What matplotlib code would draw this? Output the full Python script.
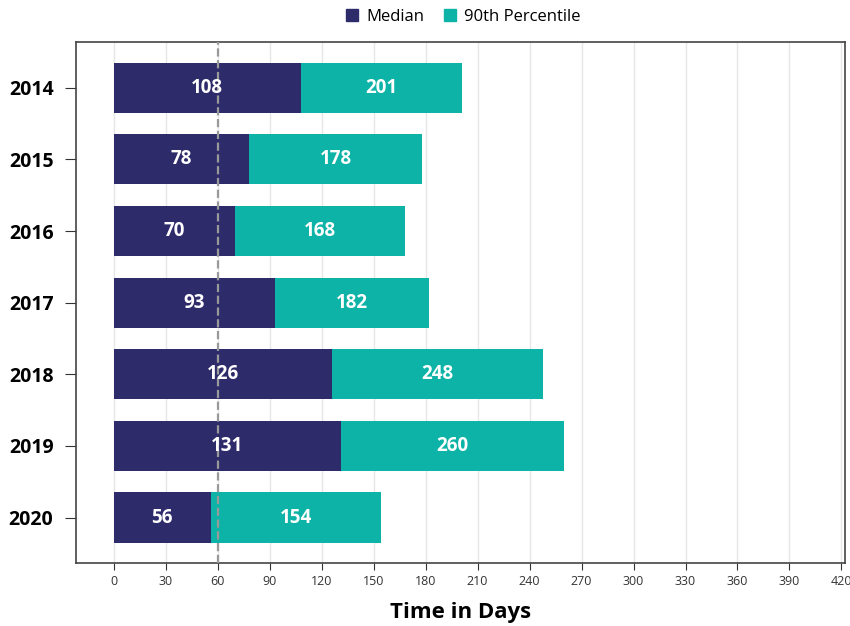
import numpy as np
import matplotlib.pyplot as plt
from matplotlib.patches import Patch

plt.rcParams['font.family'] = ['Open Sans', 'DejaVu Sans']

years = ['2014', '2015', '2016', '2017', '2018', '2019', '2020']
median = [108, 78, 70, 93, 126, 131, 56]
p90 = [201, 178, 168, 182, 248, 260, 154]

c_med = '#2e2b6b'
c_p90 = '#0db3a7'

fig = plt.figure(figsize=(8.5, 6.26), dpi=100)
ax = fig.add_axes([0.089, 0.1, 0.905, 0.833])

y = np.arange(len(years))
ax.barh(y, p90, height=0.7, color=c_p90, zorder=2)
ax.barh(y, median, height=0.7, color=c_med, zorder=3)

for i in range(len(years)):
    ax.text(median[i] / 2, y[i], str(median[i]), color='white', fontsize=13.5,
            fontweight='bold', ha='center', va='center', zorder=5)
    ax.text((median[i] + p90[i]) / 2, y[i], str(p90[i]), color='white', fontsize=13.5,
            fontweight='bold', ha='center', va='center', zorder=5)

ax.axvline(60, color='#999999', linestyle='--', linewidth=1.6, zorder=4)

ax.set_xlim(-22, 422)
ax.set_ylim(len(years) - 0.36, -0.64)
ax.set_xticks(np.arange(0, 421, 30))
ax.tick_params(axis='x', labelsize=9, length=5, colors='#333333', labelcolor='#333333')
ax.set_yticks(y)
ax.set_yticklabels(years, fontsize=14, fontweight='bold')
ax.tick_params(axis='y', length=8, pad=8, colors='#333333', labelcolor='black')
ax.grid(axis='x', color='#e6e6e6', linewidth=1, zorder=0)
ax.set_axisbelow(True)
for s in ax.spines.values():
    s.set_color('#444444')
    s.set_linewidth(1.2)

ax.set_xlabel('Time in Days', fontsize=16, fontweight='bold', labelpad=10)

handles = [Patch(color=c_med, label='Median'), Patch(color=c_p90, label='90th Percentile')]
fig.legend(handles=handles, loc='upper center', bbox_to_anchor=(0.545, 1.01), ncol=2,
           frameon=False, fontsize=12, handlelength=0.7, handleheight=0.7,
           columnspacing=1.2, handletextpad=0.5)

fig.savefig('out.png', dpi=100)
